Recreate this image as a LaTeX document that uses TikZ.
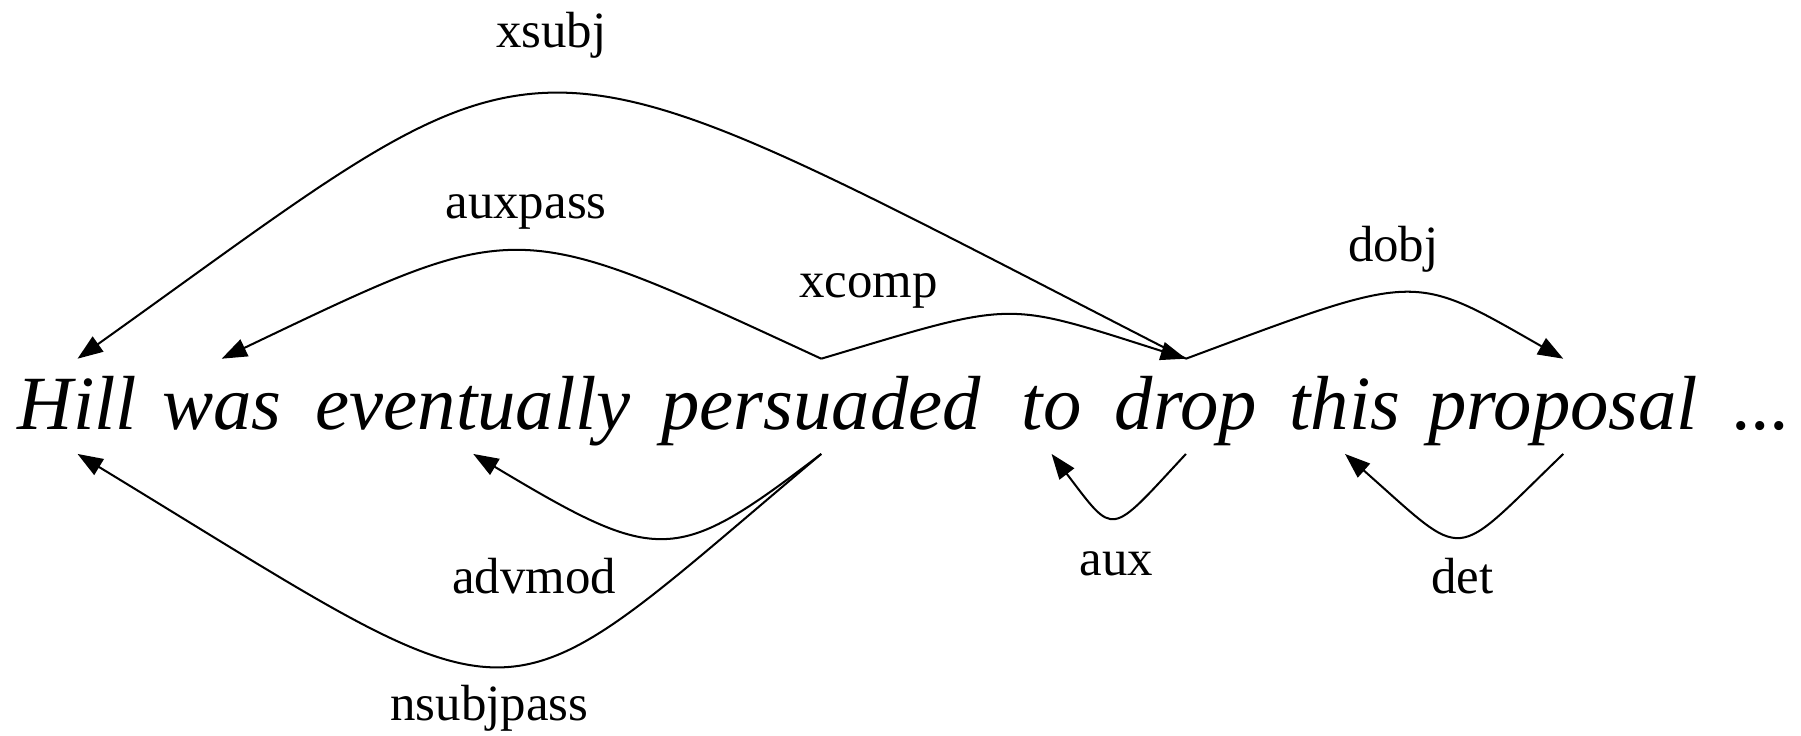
\documentclass[tikz,border=0pt]{standalone}
\usepackage{fontspec}
\setmainfont{Liberation Serif}
\usetikzlibrary{arrows.meta}
\tikzstyle{word}=[anchor=base,inner sep=0pt,text height=0.61cm,text depth=0.205cm,
  font=\itshape\fontsize{19}{19}\selectfont]
\tikzstyle{rel}=[anchor=base,inner sep=0pt,font=\fontsize{12.6}{12.6}\selectfont]
\tikzstyle{dep}=[line width=0.5pt,-{Triangle[length=0.22cm,width=0.16cm]}]

\begin{document}
\begin{tikzpicture}[%
  every to/.style={dep}]
  \useasboundingbox (0,0) rectangle (15.68,6.40);

  % the sentence
  \node[word] (hill) at (0.675,2.66) {Hill};
  \node[word] (was) at (1.93,2.66) {was};
  \node[word] (eventually) at (4.12,2.66) {eventually};
  \node[word] (persuaded) at (7.15,2.66) {persuaded};
  \node[word] (to) at (9.155,2.66) {to};
  \node[word] (drop) at (10.325,2.66) {drop};
  \node[word] (this) at (11.71,2.66) {this};
  \node[word] (proposal) at (13.61,2.66) {proposal};
  \node[word] (dots) at (15.34,2.66) {...};

  % relation labels
  \node[rel] (xsubj) at (4.80,5.99) {xsubj};
  \node[rel] (auxpass) at (4.58,4.50) {auxpass};
  \node[rel] (xcomp) at (7.56,3.81) {xcomp};
  \node[rel] (dobj) at (12.13,4.12) {dobj};
  \node[rel] (advmod) at (4.65,1.23) {advmod};
  \node[rel] (nsubjpass) at (4.26,0.13) {nsubjpass};
  \node[rel] (aux) at (9.72,1.39) {aux};
  \node[rel] (det) at (12.73,1.23) {det};

  % arcs above
  \draw[dep] (drop.north) to[out=152.9,in=35.5,out distance=6.74cm,in distance=5.28cm] (hill.north);
  \draw[dep] (persuaded.north) to[out=155.2,in=25.5,out distance=2.975cm,in distance=2.90cm] (was.north);
  \draw[dep] (persuaded.north) to[out=16.6,in=162.4,out distance=1.785cm,in distance=1.684cm] (drop.north);
  \draw[dep] (drop.north) to[out=20.4,in=150.3,out distance=2.18cm,in distance=1.53cm] (proposal.north);

  % arcs below
  \draw[dep] (persuaded.south) to[out=217.4,in=329.1,out distance=1.598cm,in distance=1.888cm] (eventually.south);
  \draw[dep] (persuaded.south) to[out=220.0,in=328.7,out distance=3.826cm,in distance=4.734cm] (hill.south);
  \draw[dep] (drop.south) to[out=227.1,in=307.4,out distance=0.992cm,in distance=0.915cm] (to.south);
  \draw[dep] (proposal.south) to[out=223.9,in=318.6,out distance=1.374cm,in distance=1.44cm] (this.south);
\end{tikzpicture}
\end{document}
